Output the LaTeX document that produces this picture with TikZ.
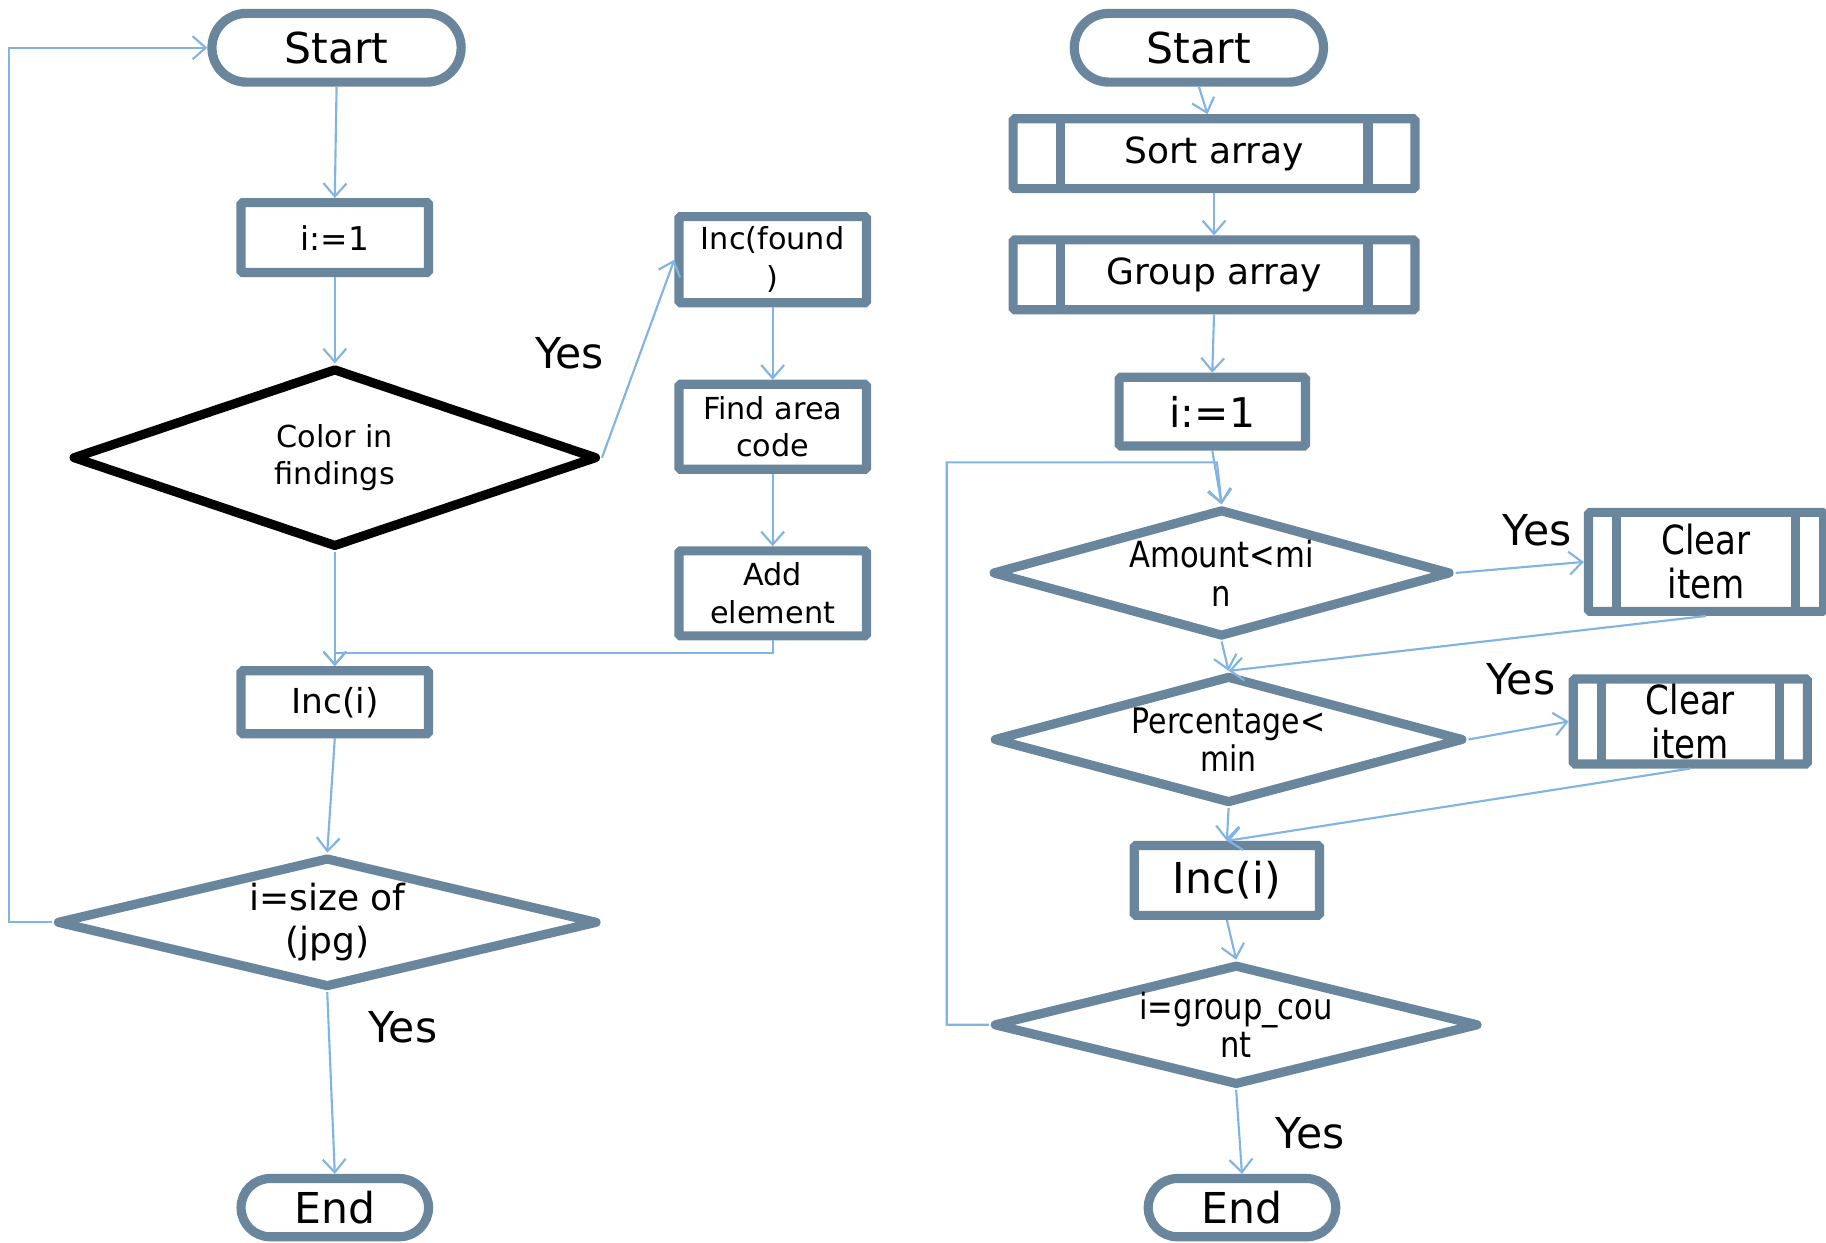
\documentclass[tikz,border=0pt]{standalone}
\usepackage{fontspec}
\setmainfont{DejaVu Sans}
\newfontfamily\condf[FakeStretch=0.85]{DejaVu Sans}
\usetikzlibrary{shapes.geometric,shapes.misc,arrows.meta}
\definecolor{strk}{RGB}{106,134,156}
\definecolor{arrc}{RGB}{130,180,226}
\begin{document}
\begin{tikzpicture}[x=0.025cm,y=-0.025cm,
  sz/.style 2 args={minimum width=#1*0.025cm, minimum height=#2*0.025cm},
  base/.style={draw=strk, line width=5.6pt, fill=white, align=center, inner sep=0pt},
  term/.style={base, rounded rectangle},
  proc/.style={base, rectangle, rounded corners=1pt},
  predef/.style={proc, path picture={
     \draw[strk, line width=5.6pt]
       ([xshift=#1]path picture bounding box.north west) -- ([xshift=#1]path picture bounding box.south west)
       ([xshift=-#1]path picture bounding box.north east) -- ([xshift=-#1]path picture bounding box.south east);}},
  dec/.style={base, diamond, line join=round},
  arr/.style={draw=arrc, line width=1.3pt, -{Straight Barb[length=8pt,width=14pt]}},
  yeslbl/.style={inner sep=0pt, font=\fontsize{26}{31}\selectfont}
]
\fill[white] (0,0) rectangle (1568,1067);
\useasboundingbox (0,0) rectangle (1568,1067);

% ---------- left flowchart ----------
\node[term, sz={214}{59}, font=\fontsize{26}{31}\selectfont] (startL) at (289,41) {Start};
\node[proc, sz={161}{60}, font=\fontsize{20}{24}\selectfont] (i1L) at (287.5,204) {i:=1};
\node[dec, draw=black, sz={451}{154},
  label={[font=\fontsize{18.5}{23}\selectfont, align=center]center:Color in\\findings}] (d1) at (287.5,393) {};
\node[proc, sz={161}{74}, font=\fontsize{18.5}{24}\selectfont] (incF) at (663.5,223) {Inc(found\\)};
\node[proc, sz={161}{73}, font=\fontsize{18.5}{23}\selectfont] (findA) at (663.5,366.5) {Find area\\code};
\node[proc, sz={161}{73}, font=\fontsize{18.5}{23.5}\selectfont] (addE) at (663.5,509.5) {Add\\element};
\node[proc, sz={161}{54}, font=\fontsize{21}{25}\selectfont] (incL) at (287.5,603) {Inc(i)};
\node[dec, sz={465}{112},
  label={[font=\fontsize{22}{26}\selectfont, align=center]center:i=size of\\(jpg)}] (d2) at (281,792) {};
\node[term, sz={161}{50}, font=\fontsize{26}{31}\selectfont] (endL) at (287.5,1037) {End};
\coordinate (lxL) at (8,0);

\node[yeslbl] (yes1) at (489,303) {Yes};
\node[yeslbl] (yes2) at (346,882) {Yes};

\draw[arr] (startL.south) -- (i1L.north);
\draw[arr] (i1L.south) -- (d1.north);
\draw[arr] (d1.east) -- (incF.west);
\draw[arr] (incF.south) -- (findA.north);
\draw[arr] (findA.south) -- (addE.north);
\draw[arr] (d1.south) -- (incL.north);
\draw[arr] (addE.south) -- ++(0,11) -| (incL.north);
\draw[arr] (incL.south) -- (d2.north);
\draw[arr] (d2.south) -- (endL.north);
\draw[arr] (d2.west) -- (d2.west -| lxL) |- (startL.west);

% ---------- right flowchart ----------
\node[term, sz={214}{59}, font=\fontsize{26}{31}\selectfont] (startR) at (1029.5,41) {Start};
\node[predef=28.7pt, sz={345}{60}, font=\fontsize{22}{26}\selectfont] (sortA) at (1042.5,132) {Sort array};
\node[predef=28.7pt, sz={345}{60}, font=\fontsize{22}{26}\selectfont] (groupA) at (1042.5,236) {Group array};
\node[proc, sz={160}{59}, font=\fontsize{25}{30}\selectfont] (i1R) at (1041,353.5) {i:=1};
\node[dec, sz={394}{110},
  label={[font=\condf\fontsize{22}{24}\selectfont, align=center]center:Amount<mi\\n}] (d3) at (1049,492) {};
\node[predef=17pt, sz={202}{85}, font=\condf\fontsize{24.5}{27}\selectfont] (clr1) at (1465,482.5) {Clear\\item};
\node[dec, sz={404}{110},
  label={[font=\condf\fontsize{21.5}{23.5}\selectfont, align=center]center:Percentage<\\min}] (d4) at (1055,635) {};
\node[predef=17pt, sz={201}{73}, font=\condf\fontsize{24.5}{27}\selectfont] (clr2) at (1451.5,619.5) {Clear\\item};
\node[proc, sz={159}{60}, font=\fontsize{26}{31}\selectfont] (incR) at (1053.5,756) {Inc(i)};
\node[dec, sz={417}{104},
  label={[font=\condf\fontsize{22}{23.5}\selectfont, align=center]center:i=group\_cou\\nt}] (d5) at (1061.5,880) {};
\node[term, sz={161}{50}, font=\fontsize{26}{31}\selectfont] (endR) at (1066.5,1037) {End};
\coordinate (lxR) at (813,0);
\coordinate (lptop) at (1045,397);

\node[yeslbl] (yes3) at (1320,455) {Yes};
\node[yeslbl] (yes4) at (1306,583) {Yes};
\node[yeslbl] (yes5) at (1125,973) {Yes};

\draw[arr] (startR.south) -- ([xshift=-4pt]sortA.north);
\draw[arr] (sortA.south) -- (groupA.north);
\draw[arr] (groupA.south) -- (i1R.north);
\draw[arr] (i1R.south) -- (d3.north);
\draw[arr] (d3.east) -- (clr1.west);
\draw[arr] (d3.south) -- (d4.north);
\draw[arr] (clr1.south) -- (d4.north);
\draw[arr] (d4.east) -- (clr2.west);
\draw[arr] (d4.south) -- (incR.north);
\draw[arr] (clr2.south) -- (incR.north);
\draw[arr] (incR.south) -- (d5.north);
\draw[arr] (d5.south) -- (endR.north);
\draw[arr] (d5.west) -- (d5.west -| lxR) |- (lptop) -- (d3.north);
\end{tikzpicture}
\end{document}
